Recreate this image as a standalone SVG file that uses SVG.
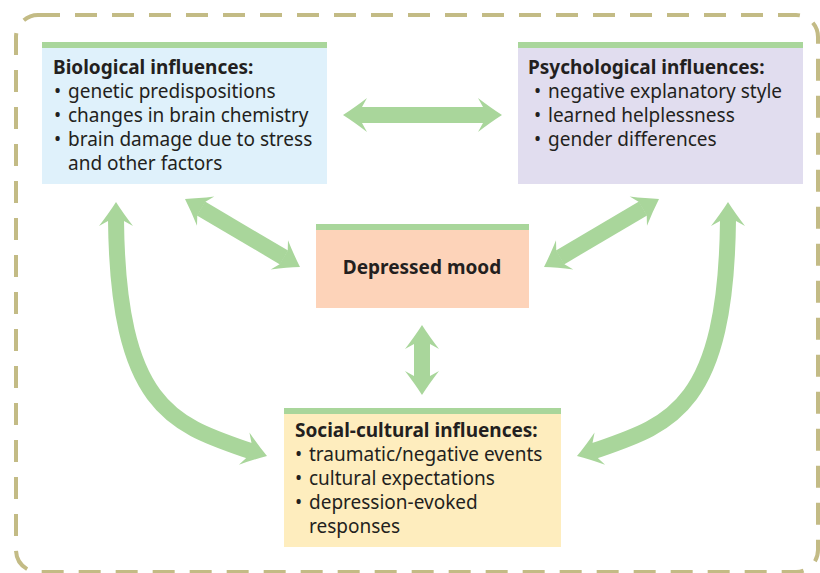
<svg xmlns="http://www.w3.org/2000/svg" xmlns:xlink="http://www.w3.org/1999/xlink" width="820" height="573" viewBox="0 0 820 573">
<style>
text{font-family:"Noto Sans","Open Sans","DejaVu Sans",sans-serif;font-size:19px;fill:#231f20}
.t{font-weight:bold}
.strip{fill:#a9d69b}
.shaft{fill:none;stroke:#a9d69b;stroke-width:16}
.head{fill:#a9d69b}
</style>
<defs>
<path id="head" d="M0,0 Q-11,-7 -24,-17 L-19,-8 L-19,8 L-24,17 Q-11,7 0,0 Z"/>
</defs>
<rect x="16" y="15" width="802" height="557" rx="22" fill="none" stroke="#c3bb85" stroke-width="4" stroke-dasharray="22 15"/>
<g id="connectors">
<line class="shaft" x1="361" y1="115" x2="484" y2="115"/>
<use class="head" xlink:href="#head" transform="translate(502,115)"/>
<use class="head" xlink:href="#head" transform="translate(343,115) rotate(180)"/>
<line class="shaft" x1="201" y1="208.5" x2="284" y2="257.5"/>
<use class="head" xlink:href="#head" transform="translate(300,267) rotate(30.6)"/>
<use class="head" xlink:href="#head" transform="translate(185,199) rotate(210.6)"/>
<line class="shaft" x1="643" y1="208.5" x2="560" y2="257.5"/>
<use class="head" xlink:href="#head" transform="translate(544,267) rotate(149.4)"/>
<use class="head" xlink:href="#head" transform="translate(659,199) rotate(-30.6)"/>
<line class="shaft" x1="422" y1="343" x2="422" y2="377"/>
<use class="head" xlink:href="#head" transform="translate(422,325) rotate(-90)"/>
<use class="head" xlink:href="#head" transform="translate(422,395) rotate(90)"/>
<path class="shaft" d="M116,220 C118,410 175,425 250,451"/>
<use class="head" xlink:href="#head" transform="translate(267,456) rotate(18)"/>
<use class="head" xlink:href="#head" transform="translate(116,202) rotate(-90)"/>
<path class="shaft" d="M728,220 C726,410 669,425 594,451"/>
<use class="head" xlink:href="#head" transform="translate(577,456) rotate(162)"/>
<use class="head" xlink:href="#head" transform="translate(728,202) rotate(-90)"/>
</g>
<g id="bio">
<rect x="42" y="42" width="285" height="142" fill="#dff1fb"/>
<rect class="strip" x="42" y="42" width="285" height="6"/>
<text class="t" x="53" y="74">Biological influences:</text>
<text x="54" y="98">•<tspan x="68">genetic  predispositions</tspan></text>
<text x="54" y="122">•<tspan x="68">changes in brain chemistry</tspan></text>
<text x="54" y="146">•<tspan x="68">brain damage due to stress</tspan></text>
<text x="68" y="170">and other factors</text>
</g>
<g id="psych">
<rect x="518" y="42" width="285" height="142" fill="#e1ddef"/>
<rect class="strip" x="518" y="42" width="285" height="6"/>
<text class="t" x="528" y="74">Psychological influences:</text>
<text x="534" y="98">•<tspan x="548">negative explanatory style</tspan></text>
<text x="534" y="122">•<tspan x="548">learned helplessness</tspan></text>
<text x="534" y="146">•<tspan x="548">gender differences</tspan></text>
</g>
<g id="mood">
<rect x="316" y="224" width="213" height="84" fill="#fdd3b9"/>
<rect class="strip" x="316" y="224" width="213" height="6"/>
<text class="t" x="422" y="274" text-anchor="middle">Depressed mood</text>
</g>
<g id="social">
<rect x="284" y="408" width="277" height="139" fill="#feedbe"/>
<rect class="strip" x="284" y="408" width="277" height="6"/>
<text class="t" x="295" y="437">Social-cultural influences:</text>
<text x="295" y="461">•<tspan x="309">traumatic/negative events</tspan></text>
<text x="295" y="485">•<tspan x="309">cultural expectations</tspan></text>
<text x="295" y="509">•<tspan x="309">depression-evoked</tspan></text>
<text x="309" y="533">responses</text>
</g>
</svg>
